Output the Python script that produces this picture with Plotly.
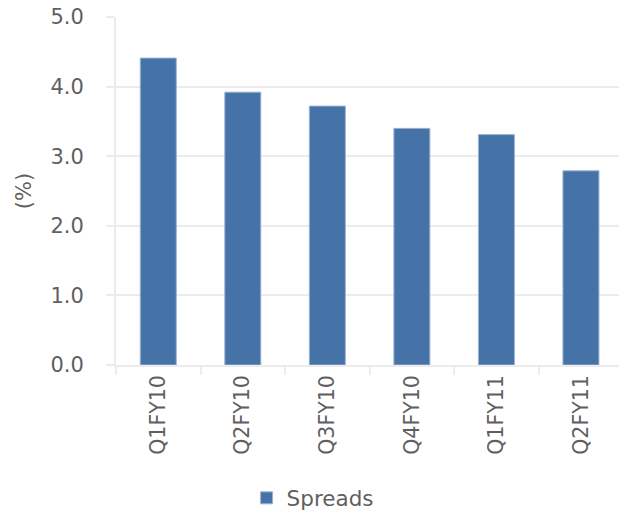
import plotly.graph_objects as go

categories = ["Q1FY10", "Q2FY10", "Q3FY10", "Q4FY10", "Q1FY11", "Q2FY11"]
spreads = [4.41, 3.92, 3.72, 3.40, 3.31, 2.79]
y_ticks = [0, 1, 2, 3, 4, 5]
y_tick_labels = ["0.0", "1.0", "2.0", "3.0", "4.0", "5.0"]

FONT = "DejaVu Sans"
TXT = "#5f5f5f"
GRID = "#ececec"

fig = go.Figure()
fig.add_trace(go.Bar(
    x=categories, y=spreads, name="Spreads",
    marker=dict(color="#4572A7", line=dict(color="#9db3d2", width=1)),
    showlegend=True,
))

fig.update_layout(
    width=619, height=521,
    margin=dict(l=116, r=0, t=17, b=156),
    paper_bgcolor="white", plot_bgcolor="white",
    font=dict(family=FONT, color=TXT, size=20),
    bargap=0.574,
    showlegend=True,
    legend=dict(orientation="h", xref="container", yref="container",
                x=0.505, xanchor="center", y=0.005, yanchor="bottom",
                font=dict(size=21.5, color=TXT), itemwidth=30),
    xaxis=dict(
        type="category", range=[-0.5, 5.45],
        showline=True, linecolor=GRID, linewidth=2,
        ticks="outside", tickson="boundaries", ticklen=8, tickcolor=GRID, tickwidth=2,
        tickangle=-90, tickfont=dict(size=20.5, color=TXT),
        showgrid=False,
    ),
    yaxis=dict(
        range=[0, 5], tickvals=y_ticks, ticktext=y_tick_labels,
        showgrid=True, gridcolor=GRID, gridwidth=2,
        showline=True, linecolor=GRID, linewidth=2,
        ticks="outside", ticklen=8, tickcolor=GRID, tickwidth=2,
        tickfont=dict(size=21, color=TXT), ticklabelstandoff=18,
        zeroline=False,
        title=dict(text="(%)", font=dict(size=21, color=TXT), standoff=13),
    ),
)

fig.write_html("out.html")
